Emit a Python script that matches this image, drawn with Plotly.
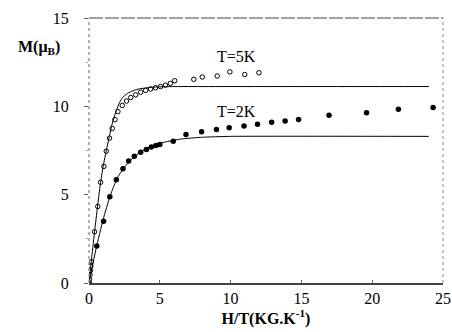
import plotly.graph_objects as go

# T = 5K, open circles
t5_x = [0, 0.04, 0.07, 0.1, 0.13, 0.16, 0.39, 0.62, 0.82, 1.05, 1.22, 1.45, 1.64, 1.83, 2.04,
        2.35, 2.65, 2.95, 3.3, 3.65, 4.0, 4.35, 4.7, 5.05, 5.4, 5.75, 6.05, 7.4, 8.0, 9.05,
        9.95, 11.0, 12.0]
t5_y = [0, 0.2, 0.45, 0.7, 0.95, 1.2, 2.9, 4.33, 5.7, 6.6, 7.46, 8.2, 8.75, 9.25, 9.7,
        10.05, 10.3, 10.5, 10.65, 10.8, 10.9, 10.98, 11.05, 11.12, 11.2, 11.3, 11.45, 11.53, 11.66, 11.72,
        11.95, 11.8, 11.9]

# T = 2K, filled circles
t2_x = [0, 0.55, 1.03, 1.47, 1.93, 2.4, 2.8, 3.2, 3.65, 4.05, 4.4, 4.72, 5.0, 5.95, 6.85,
        7.95, 9.0, 9.9, 10.95, 11.9, 12.9, 13.85, 14.8, 16.95, 19.6, 21.85, 24.3]
t2_y = [0, 2.1, 3.5, 4.88, 5.85, 6.46, 6.9, 7.18, 7.4, 7.56, 7.7, 7.78, 7.84, 8.03, 8.41,
        8.56, 8.69, 8.79, 8.88, 8.98, 9.1, 9.17, 9.26, 9.49, 9.64, 9.83, 9.93]

# fitted curves
fit5_x = [0, 0.2, 0.4, 0.6, 0.8, 1.0, 1.25, 1.45, 1.6, 1.8, 1.95, 2.15, 2.3, 2.5, 2.75, 3.1,
          3.45, 3.9, 4.4, 5.3, 6.5, 8, 24]
fit5_y = [0, 1.5, 2.95, 4.3, 5.6, 6.6, 7.6, 8.35, 8.9, 9.45, 9.8, 10.2, 10.42, 10.6, 10.75, 10.88,
          10.97, 11.03, 11.08, 11.11, 11.12, 11.12, 11.12]
fit2_x = [0, 0.5, 1.0, 1.5, 2.0, 2.5, 3.0, 3.6, 4.4, 5.3, 6.5, 8, 10, 24]
fit2_y = [0, 1.95, 3.6, 4.95, 5.95, 6.55, 7.0, 7.4, 7.75, 7.97, 8.15, 8.25, 8.3, 8.3]

x_ticks = [0, 5, 10, 15, 20, 25]
y_ticks = [0, 5, 10, 15]

FONT = "Liberation Serif, Times New Roman, serif"

fig = go.Figure()
fig.add_trace(go.Scatter(x=fit5_x, y=fit5_y, mode="lines", line=dict(color="black", width=1),
                         line_shape="spline", line_smoothing=0.5, showlegend=False, hoverinfo="skip"))
fig.add_trace(go.Scatter(x=fit2_x, y=fit2_y, mode="lines", line=dict(color="black", width=1),
                         line_shape="spline", line_smoothing=0.5, showlegend=False, hoverinfo="skip"))
fig.add_trace(go.Scatter(x=t5_x, y=t5_y, mode="markers",
                         marker=dict(symbol="circle-open", size=4.5, color="black", line=dict(width=1)),
                         showlegend=False))
fig.add_trace(go.Scatter(x=t2_x, y=t2_y, mode="markers",
                         marker=dict(symbol="circle", size=5.5, color="black"),
                         showlegend=False))

fig.update_layout(
    width=452, height=332,
    margin=dict(l=89, r=9, t=18, b=49),
    paper_bgcolor="white", plot_bgcolor="white",
    font=dict(family=FONT, size=16, color="black"),
    xaxis=dict(range=[0, 25], tickvals=x_ticks, showgrid=False, zeroline=False,
               showline=True, linecolor="#444", linewidth=2, automargin=False,
               ticks="inside", ticklen=3, tickcolor="#666",
               tickfont=dict(family=FONT, size=16),
               title=dict(text="<b>H/T(KG.K<sup>-1</sup>)</b>", standoff=0,
                          font=dict(family=FONT, size=16))),
    yaxis=dict(range=[0, 15], tickvals=y_ticks, showgrid=False, zeroline=False,
               showline=False, ticks="outside", ticklen=4, tickcolor="#666", automargin=False,
               tickfont=dict(family=FONT, size=16),
               ticklabelstandoff=12,
               minor=dict(tickvals=[2.5, 7.5, 12.5], ticks="outside", ticklen=2, tickcolor="#999")),
    shapes=[
        dict(type="line", xref="paper", yref="paper", x0=0, x1=1, y0=1, y1=1,
             line=dict(color="#444", width=1, dash="14px,2px")),
        dict(type="line", xref="paper", yref="paper", x0=1, x1=1, y0=0, y1=1,
             line=dict(color="#888", width=1, dash="dot")),
        dict(type="line", xref="paper", yref="paper", x0=0, x1=0, y0=0, y1=1,
             line=dict(color="#999", width=1.5, dash="dot")),
    ],
    annotations=[
        dict(text="<b>M(μ<sub>B</sub>)</b>", xref="paper", yref="paper", x=-0.14, y=0.89,
             xanchor="center", yanchor="middle", showarrow=False, font=dict(family=FONT, size=16)),
        dict(text="T=5K", x=10.4, y=12.84, xref="x", yref="y", showarrow=False,
             font=dict(family=FONT, size=16)),
        dict(text="T=2K", x=10.4, y=9.7, xref="x", yref="y", showarrow=False,
             font=dict(family=FONT, size=16)),
    ],
)

fig.write_html("out.html",
               config={"displayModeBar": False},
               post_script="document.body.style.margin='0';document.body.style.overflow='hidden';")
